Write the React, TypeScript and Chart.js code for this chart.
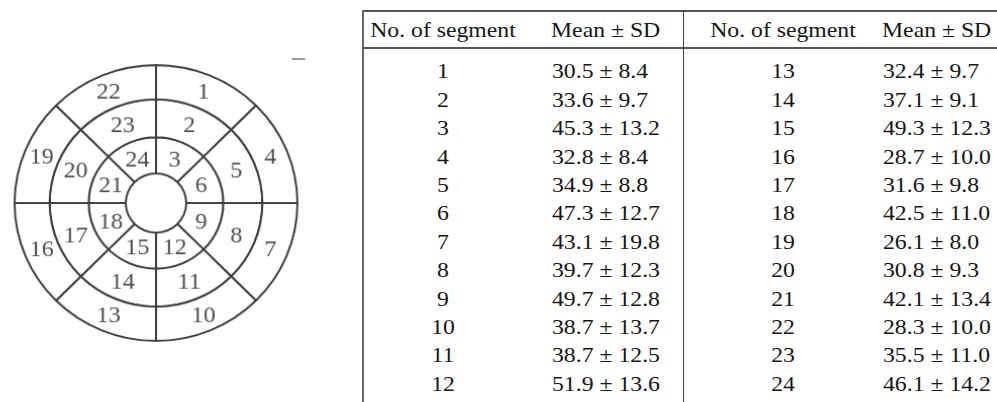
import React, { useEffect, useRef } from "react";
import { Chart, registerables } from "chart.js";

Chart.register(...registerables);

// Bullseye rings, listed clockwise from 12 o'clock (each ring has 8 equal sectors)
const outerRingSegments = ["1", "4", "7", "10", "13", "16", "19", "22"];
const middleRingSegments = ["2", "5", "8", "11", "14", "17", "20", "23"];
const innerRingSegments = ["3", "6", "9", "12", "15", "18", "21", "24"];
const sectorShares = [1, 1, 1, 1, 1, 1, 1, 1];

// Table: segment number, mean and SD
const segmentNumbers = [
  1, 2, 3, 4, 5, 6, 7, 8, 9, 10, 11, 12,
  13, 14, 15, 16, 17, 18, 19, 20, 21, 22, 23, 24,
];
const meanValues = [
  30.5, 33.6, 45.3, 32.8, 34.9, 47.3, 43.1, 39.7, 49.7, 38.7, 38.7, 51.9,
  32.4, 37.1, 49.3, 28.7, 31.6, 42.5, 26.1, 30.8, 42.1, 28.3, 35.5, 46.1,
];
const sdValues = [
  8.4, 9.7, 13.2, 8.4, 8.8, 12.7, 19.8, 12.3, 12.8, 13.7, 12.5, 13.6,
  9.7, 9.1, 12.3, 10.0, 9.8, 11.0, 8.0, 9.3, 13.4, 10.0, 11.0, 14.2,
];
const headerLabels = ["No. of segment", "Mean ± SD"];

const SERIF = '"Liberation Serif", "Times New Roman", serif';
const LINE = "#3f3f3f";

const ringLabels = [outerRingSegments, middleRingSegments, innerRingSegments];

const segmentLabelPlugin = {
  id: "segmentLabels",
  afterDatasetsDraw(chart: any) {
    const ctx = chart.ctx;
    ctx.save();
    ctx.font = `24px ${SERIF}`;
    ctx.fillStyle = "#505050";
    ctx.textAlign = "center";
    ctx.textBaseline = "middle";
    chart.data.datasets.forEach((_ds: any, i: number) => {
      const meta = chart.getDatasetMeta(i);
      meta.data.forEach((arc: any, j: number) => {
        const p = arc.tooltipPosition(false);
        ctx.fillText(ringLabels[i][j], p.x, p.y + 1);
      });
    });
    ctx.restore();
  },
};

function Bullseye() {
  const ref = useRef<HTMLCanvasElement | null>(null);
  useEffect(() => {
    if (!ref.current) return;
    const ring = (weight: number) => ({
      data: sectorShares,
      weight,
      backgroundColor: "#ffffff",
      borderColor: LINE,
      borderWidth: 2,
    });
    const chart = new Chart(ref.current, {
      type: "doughnut",
      data: {
        labels: outerRingSegments,
        datasets: [ring(35), ring(39), ring(37)],
      },
      options: {
        responsive: false,
        animation: false,
        cutout: 30,
        events: [],
        layout: { padding: 0 },
        plugins: {
          legend: { display: false },
          tooltip: { enabled: false },
        },
      },
      plugins: [segmentLabelPlugin],
    } as any);
    return () => chart.destroy();
  }, []);
  return (
    <canvas
      ref={ref}
      width={282}
      height={282}
      style={{
        position: "absolute",
        left: 15,
        top: 62,
        width: 282,
        height: 282,
        transform: "scale(1.01, 0.985)",
        transformOrigin: "141px 141px",
      }}
    />
  );
}

const STRETCH = 1.13;
const FONT_PX = 21;

function Cell({ text, x, baseline, align }: { text: string; x: number; baseline: number; align: "center" | "left" }) {
  const top = baseline - 17.6;
  const base: React.CSSProperties = {
    position: "absolute",
    top,
    fontFamily: SERIF,
    fontSize: FONT_PX,
    lineHeight: `${FONT_PX}px`,
    whiteSpace: "nowrap",
    color: "#161616",
  };
  if (align === "center") {
    return (
      <div style={{ ...base, left: x - 100, width: 200, textAlign: "center", transform: `scaleX(${STRETCH})`, transformOrigin: "center" }}>
        {text}
      </div>
    );
  }
  return (
    <div style={{ ...base, left: x, transform: `scaleX(${STRETCH})`, transformOrigin: "left" }}>{text}</div>
  );
}

function Rule({ x1, y1, x2, y2, w, color }: { x1: number; y1: number; x2: number; y2: number; w: number; color: string }) {
  return (
    <div
      style={{
        position: "absolute",
        left: x1,
        top: y1,
        width: Math.max(x2 - x1, w),
        height: Math.max(y2 - y1, w),
        background: color,
      }}
    />
  );
}

function SegmentTable() {
  const halves = [
    { from: 0, numX: 443, valX: 552 },
    { from: 12, numX: 782.5, valX: 883 },
  ];
  const headerBaseline = 37.5;
  const firstRowBaseline = 79;
  const rowStep = 28.4;
  const cells: React.ReactNode[] = [];
  halves.forEach((h, hi) => {
    cells.push(<Cell key={`h${hi}a`} text={headerLabels[0]} x={h.numX} baseline={headerBaseline} align="center" />);
    cells.push(<Cell key={`h${hi}b`} text={headerLabels[1]} x={h.valX - 1} baseline={headerBaseline} align="left" />);
    for (let r = 0; r < 12; r++) {
      const k = h.from + r;
      const b = firstRowBaseline + r * rowStep;
      cells.push(<Cell key={`n${k}`} text={String(segmentNumbers[k])} x={h.numX} baseline={b} align="center" />);
      cells.push(
        <Cell key={`v${k}`} text={`${meanValues[k].toFixed(1)} ± ${sdValues[k].toFixed(1)}`} x={h.valX} baseline={b} align="left" />
      );
    }
  });
  return (
    <>
      <Rule x1={362} y1={10} x2={997} y2={11.5} w={1.5} color="#555" />
      <Rule x1={362} y1={47.3} x2={997} y2={48.8} w={1.5} color="#555" />
      <Rule x1={361.5} y1={10} x2={363.5} y2={402} w={2} color="#666" />
      <Rule x1={682.5} y1={10} x2={684} y2={402} w={1.5} color="#444" />
      {cells}
    </>
  );
}

export default function App() {
  return (
    <div
      style={{
        position: "absolute",
        left: 0,
        top: 0,
        width: 997,
        height: 402,
        background: "#ffffff",
        overflow: "hidden",
      }}
    >
      <Bullseye />
      <Rule x1={292} y1={58} x2={305} y2={60} w={2} color="#9a9a9a" />
      <SegmentTable />
    </div>
  );
}
